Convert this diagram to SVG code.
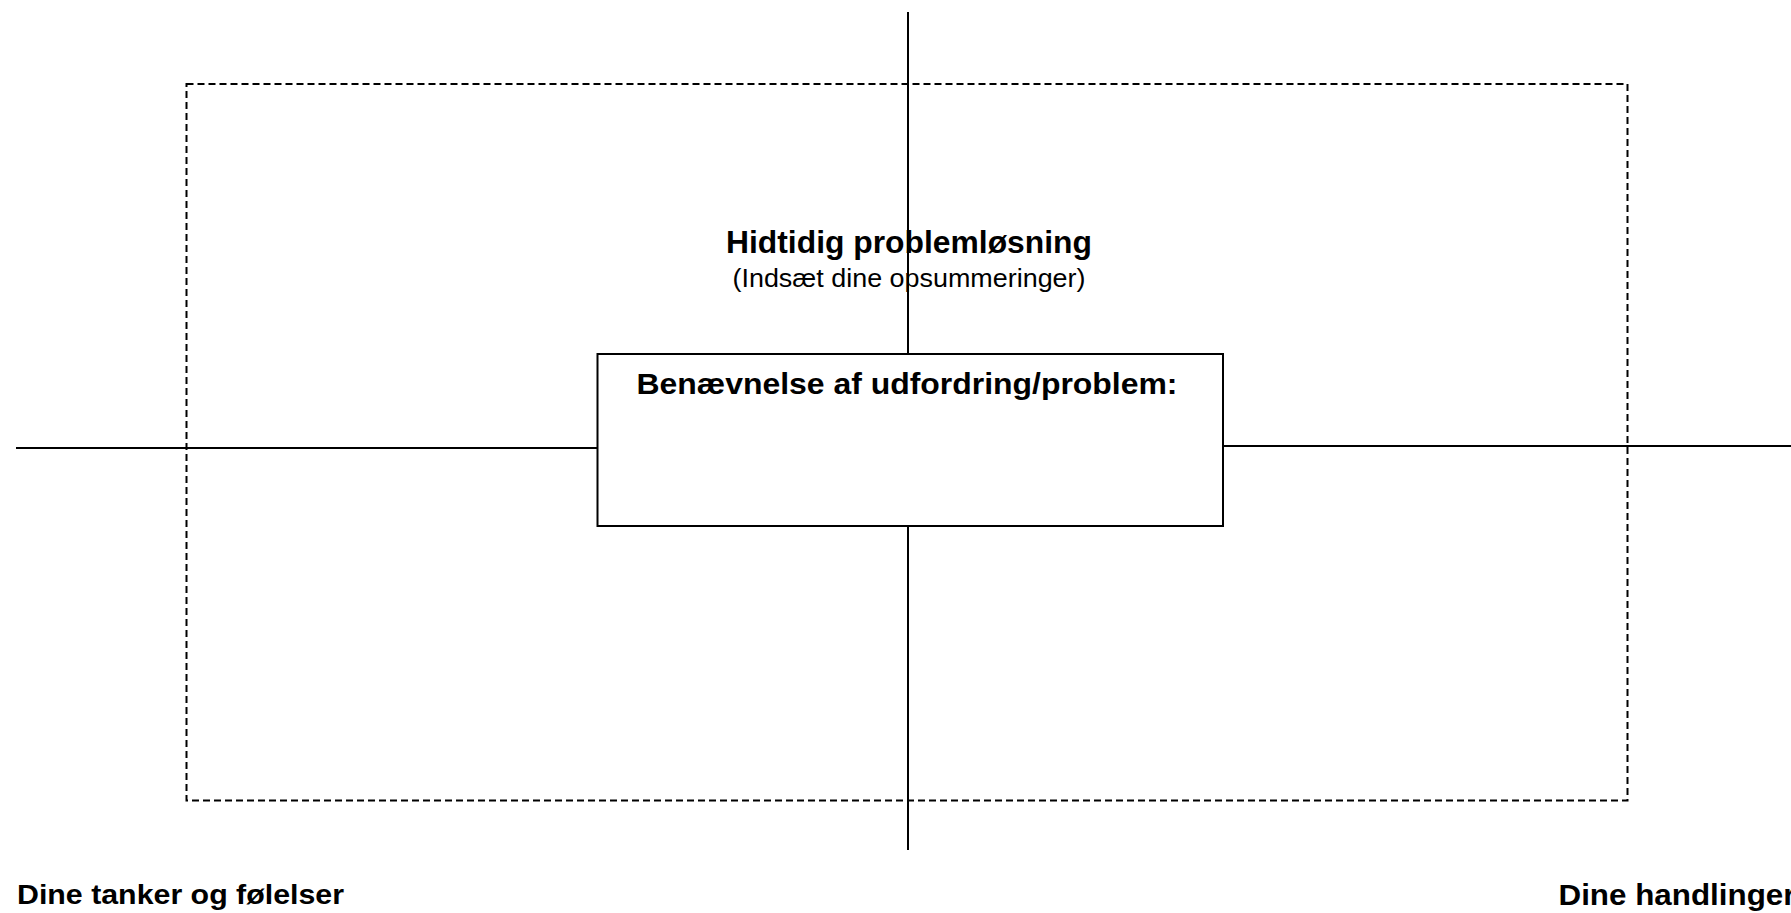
<svg xmlns="http://www.w3.org/2000/svg" width="1791" height="913" viewBox="0 0 1791 913">
<style>
.line{stroke:#000;stroke-width:2;fill:none}
.dash{stroke:#000;stroke-width:2;fill:none;stroke-dasharray:7 4}
.b{font-family:"Liberation Sans",Arial,sans-serif;font-weight:bold;fill:#000}
.r{font-family:"Liberation Sans",Arial,sans-serif;fill:#000}
</style>
<rect width="1791" height="913" fill="#fff"/>
<g id="frame">
<rect class="dash" x="186.5" y="84" width="1441" height="716.5"/>
</g>
<g id="connectors">
<line class="line" x1="908" y1="12" x2="908" y2="354"/>
<line class="line" x1="908" y1="526" x2="908" y2="850"/>
<line class="line" x1="16" y1="448" x2="597.5" y2="448"/>
<line class="line" x1="1223" y1="446" x2="1791" y2="446"/>
</g>
<g id="title">
<text class="b" x="909" y="253" font-size="31" text-anchor="middle" textLength="366" lengthAdjust="spacingAndGlyphs">Hidtidig problemløsning</text>
<text class="r" x="909" y="287" font-size="25" text-anchor="middle" textLength="353" lengthAdjust="spacingAndGlyphs">(Indsæt dine opsummeringer)</text>
</g>
<g id="problem">
<rect class="line" x="597.5" y="354" width="625.5" height="172" fill="#fff"/>
<text class="b" x="907" y="394" font-size="30" text-anchor="middle" textLength="541" lengthAdjust="spacingAndGlyphs">Benævnelse af udfordring/problem:</text>
</g>
<g id="thoughts">
<text class="b" x="17" y="904" font-size="28.5" textLength="327" lengthAdjust="spacingAndGlyphs">Dine tanker og følelser</text>
</g>
<g id="actions">
<text class="b" x="1558.5" y="905" font-size="29" textLength="237" lengthAdjust="spacingAndGlyphs">Dine handlinger</text>
</g>
</svg>
